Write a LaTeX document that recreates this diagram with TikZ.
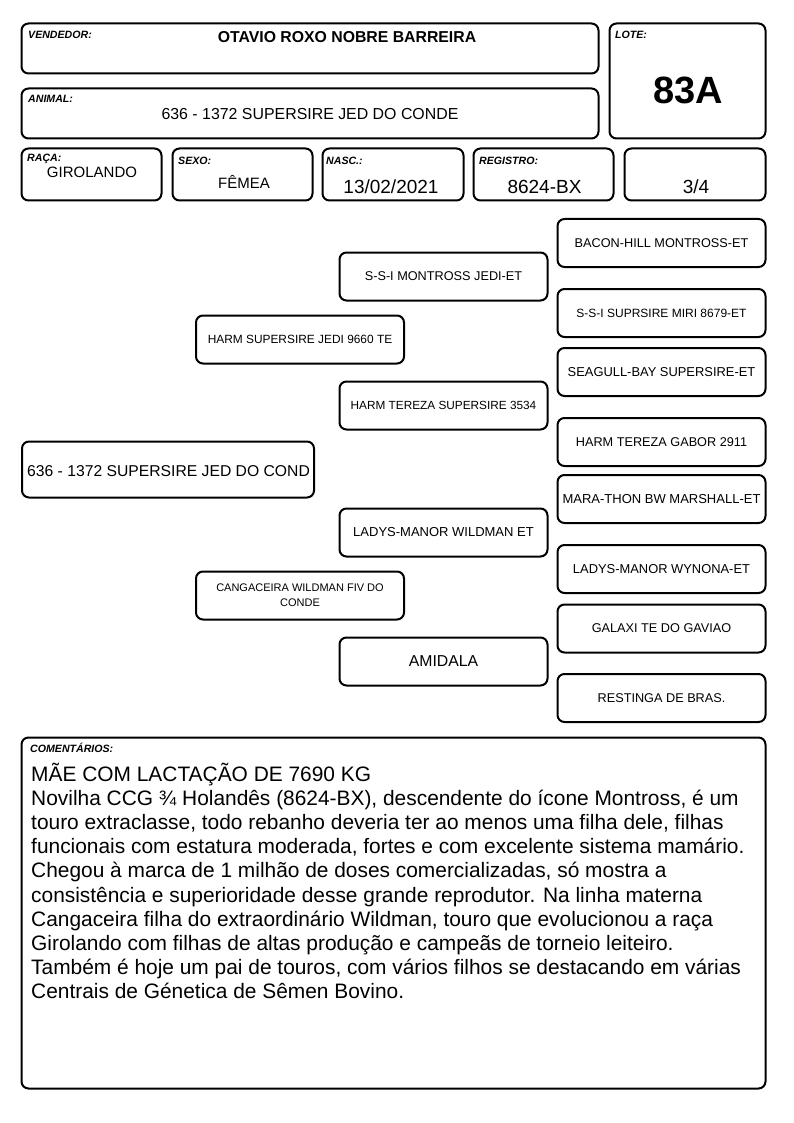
\documentclass[tikz,border=0pt]{standalone}
\usepackage{fontspec}
\setmainfont{Liberation Sans}
\usetikzlibrary{positioning}

\tikzset{
  caixa/.style={draw, line width=2pt, rounded corners=7pt, inner sep=0pt},
  rotulo/.style={anchor=base west, inner sep=0pt, font=\fontsize{10.6}{11}\selectfont\bfseries\itshape},
  valor/.style={anchor=base, inner sep=0pt},
  ped/.style={caixa, minimum width=208pt, minimum height=48pt, align=center},
}
\newcommand{\tam}[1]{\fontsize{#1}{#1}\selectfont}

\begin{document}
\begin{tikzpicture}[x=1pt, y=-1pt]
  \useasboundingbox (0,0) rectangle (794,1123);

  % cabecalho
  \node[caixa, minimum width=577pt, minimum height=50pt] (vendedor) at (310,48.5) {};
  \node[caixa, minimum width=156pt, minimum height=115pt] (lote) at (687.5,81) {};
  \node[caixa, minimum width=577pt, minimum height=50pt] (animal) at (310,113.5) {};
  \node[caixa, minimum width=140pt, minimum height=52pt] (raca) at (91.5,174.5) {};
  \node[caixa, minimum width=140pt, minimum height=52pt] (sexo) at (242.5,174.5) {};
  \node[caixa, minimum width=141pt, minimum height=52pt] (nasc) at (393,174.5) {};
  \node[caixa, minimum width=140pt, minimum height=52pt] (registro) at (543.5,174.5) {};
  \node[caixa, minimum width=141pt, minimum height=52pt] (grau) at (695,174.5) {};

  \node[rotulo] (lbvend) at (28,39) {VENDEDOR:};
  \node[valor, font=\tam{15.8}\bfseries] (nomevend) at (347,43) {OTAVIO ROXO NOBRE BARREIRA};
  \node[rotulo] (lblote) at (615,38.5) {LOTE:};
  \node[valor, font=\tam{38}\bfseries] (numlote) at (688,103.5) {83A};
  \node[rotulo] (lbanimal) at (28,103) {ANIMAL:};
  \node[valor, font=\tam{15.9}] (nomeanimal) at (310,120) {636 - 1372 SUPERSIRE JED DO CONDE};
  \node[rotulo] (lbraca) at (27,162) {RAÇA:};
  \node[valor, font=\tam{15}] (vraca) at (92,178) {GIROLANDO};
  \node[rotulo] (lbsexo) at (178,165) {SEXO:};
  \node[valor, font=\tam{15}] (vsexo) at (244,189) {FÊMEA};
  \node[rotulo] (lbnasc) at (326,165) {NASC.:};
  \node[valor, font=\tam{19}] (vnasc) at (391,194) {13/02/2021};
  \node[rotulo] (lbreg) at (479,165) {REGISTRO:};
  \node[valor, font=\tam{19}] (vreg) at (544.5,194) {8624-BX};
  \node[valor, font=\tam{19}] (vgrau) at (696,194) {3/4};

  % pedigree
  \node[caixa, minimum width=292pt, minimum height=56pt] (an) at (168,469.5) {};
  \node[anchor=base west, inner sep=0pt, font=\tam{15.7}] (antxt) at (27,476) {636 - 1372 SUPERSIRE JED DO COND};

  \node[ped, font=\tam{11.9}] (p) at (300,339.5) {HARM SUPERSIRE JEDI 9660 TE};
  \node[ped, font=\fontsize{11}{15}\selectfont] (m) at (300,595.5) {CANGACEIRA WILDMAN FIV DO\\CONDE};

  \node[ped, font=\tam{12.7}] (pp) at (443.5,276.5) {S-S-I MONTROSS JEDI-ET};
  \node[ped, font=\tam{11.8}] (pm) at (443.5,405.5) {HARM TEREZA SUPERSIRE 3534};
  \node[ped, font=\tam{13}] (mp) at (443.5,532.5) {LADYS-MANOR WILDMAN ET};
  \node[ped, font=\tam{15.8}] (mm) at (443.5,661.5) {AMIDALA};

  \node[ped, font=\tam{12.7}] (ppp) at (661.5,243) {BACON-HILL MONTROSS-ET};
  \node[ped, font=\tam{12}] (ppm) at (661.5,313) {S-S-I SUPRSIRE MIRI 8679-ET};
  \node[ped, font=\tam{12.9}] (pmp) at (661.5,372) {SEAGULL-BAY SUPERSIRE-ET};
  \node[ped, font=\tam{12.7}] (pmm) at (661.5,442) {HARM TEREZA GABOR 2911};
  \node[ped, font=\tam{13}] (mpp) at (661.5,499) {MARA-THON BW MARSHALL-ET};
  \node[ped, font=\tam{12.9}] (mpm) at (661.5,569) {LADYS-MANOR WYNONA-ET};
  \node[ped, font=\tam{12.7}] (mmp) at (661.5,628.5) {GALAXI TE DO GAVIAO};
  \node[ped, font=\tam{12.7}] (mmm) at (661.5,698) {RESTINGA DE BRAS.};

  % comentarios
  \node[caixa, minimum width=744pt, minimum height=351pt] (coment) at (393.5,913) {};
  \node[rotulo] (lbcoment) at (30,752) {COMENTÁRIOS:};
  \node[anchor=north west, inner sep=0pt, align=left, font=\fontsize{20.9}{24.1}\selectfont] (textocoment) at (31,763) {%
    MÃE COM LACTAÇÃO DE 7690 KG\\
    Novilha CCG ¾ Holandês (8624-BX), descendente do ícone Montross, é um\\
    touro extraclasse, todo rebanho deveria ter ao menos uma filha dele, filhas\\
    funcionais com estatura moderada, fortes e com excelente sistema mamário.\\
    Chegou à marca de 1 milhão de doses comercializadas, só mostra a\\
    consistência e superioridade desse grande reprodutor. Na linha materna\\
    Cangaceira filha do extraordinário Wildman, touro que evolucionou a raça\\
    Girolando com filhas de altas produção e campeãs de torneio leiteiro.\\
    Também é hoje um pai de touros, com vários filhos se destacando em várias\\
    Centrais de Génetica de Sêmen Bovino.};
\end{tikzpicture}
\end{document}
